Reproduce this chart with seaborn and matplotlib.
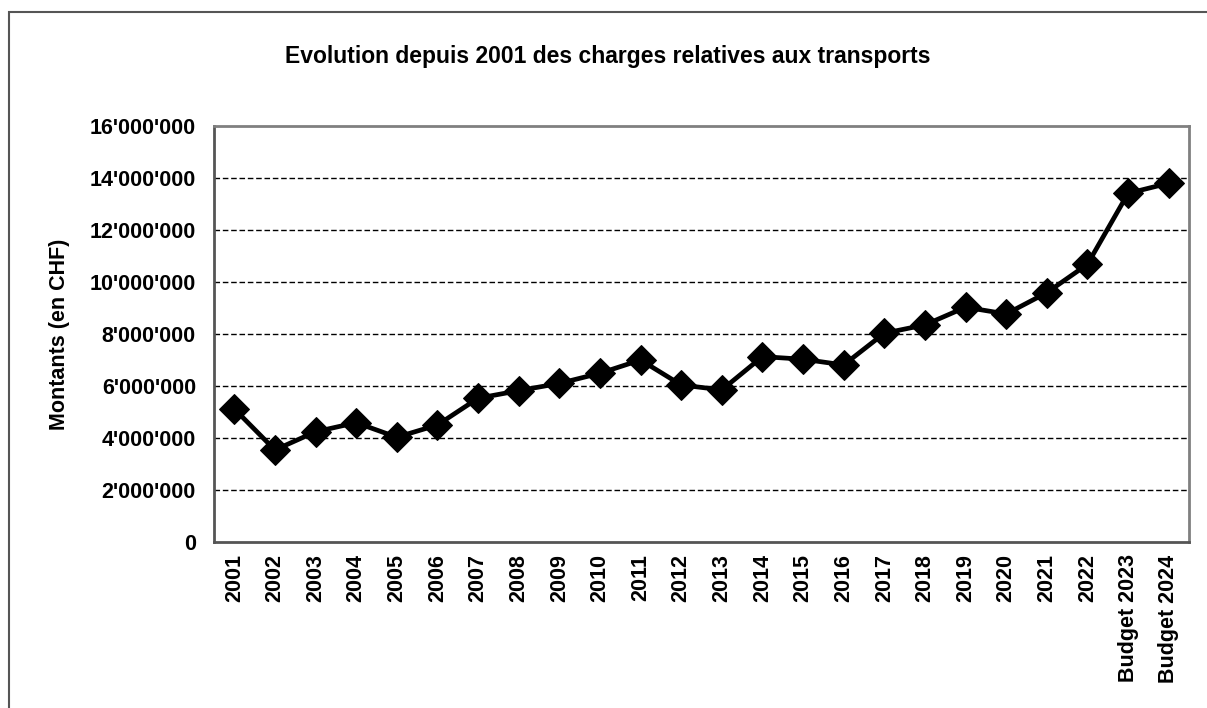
import matplotlib
matplotlib.use("Agg")
import matplotlib.pyplot as plt
from matplotlib.ticker import FuncFormatter, FixedLocator
import seaborn as sns

# données
annees = ["2001", "2002", "2003", "2004", "2005", "2006", "2007", "2008",
          "2009", "2010", "2011", "2012", "2013", "2014", "2015", "2016",
          "2017", "2018", "2019", "2020", "2021", "2022",
          "Budget 2023", "Budget 2024"]
montants = [5120000, 3540000, 4240000, 4590000, 4030000, 4500000, 5530000, 5820000,
            6100000, 6490000, 7000000, 6040000, 5850000, 7130000, 7030000, 6810000,
            8030000, 8350000, 9030000, 8770000, 9590000, 10680000,
            13410000, 13800000]
y_ticks = [0, 2000000, 4000000, 6000000, 8000000, 10000000, 12000000, 14000000, 16000000]

sns.set_style("white")
plt.rcParams['font.family'] = ['Liberation Sans', 'DejaVu Sans']
plt.rcParams['font.weight'] = 'bold'
plt.rcParams['text.color'] = 'black'
plt.rcParams['axes.labelcolor'] = 'black'
plt.rcParams['xtick.labelcolor'] = 'black'
plt.rcParams['ytick.labelcolor'] = 'black'

fs = 15.5

fig = plt.figure(figsize=(12.07, 7.08), dpi=100)
ax = fig.add_axes([214 / 1207, 1 - 542 / 708, (1189 - 214) / 1207, (542 - 126) / 708])

# cadre extérieur
cadre = plt.Rectangle((9 / 1207, -0.1), 1.2, 1 - 12 / 708 + 0.1, transform=fig.transFigure,
                      fill=False, edgecolor="#555555", linewidth=1.5)
fig.patches.append(cadre)

sns.lineplot(x=annees, y=montants, ax=ax, color="black", linewidth=3.4,
             marker="D", markersize=15, markeredgecolor="black", sort=False)

ax.set_xlim(-0.5, len(annees) - 0.5)
ax.set_ylim(0, 16000000)
ax.yaxis.set_major_locator(FixedLocator(y_ticks))
ax.yaxis.set_major_formatter(FuncFormatter(lambda v, p: f"{int(v):,}".replace(",", "'")))

for v in y_ticks[1:-1]:
    ax.axhline(v, color="black", linewidth=1, linestyle=(0, (4, 2)), zorder=0)

ax.set_xticks(range(len(annees)))
ax.set_xticklabels(annees, rotation=90, fontsize=fs, fontweight="bold")
ax.set_xticks([i + 0.5 for i in range(-1, len(annees))], minor=True)
ax.tick_params(axis="x", which="major", length=0, pad=9)
ax.tick_params(axis="x", which="minor", length=6, width=1.2, color="#555555", direction="out")
ax.tick_params(axis="y", length=6, width=1.2, color="#555555", direction="out", labelsize=fs, pad=7)
for lab in ax.get_yticklabels():
    lab.set_fontweight("bold")

for side in ["left", "bottom", "top", "right"]:
    ax.spines[side].set_visible(True)
    ax.spines[side].set_color("#808080")
    ax.spines[side].set_linewidth(2)
ax.spines["left"].set_color("#555555")
ax.spines["bottom"].set_color("#555555")

ax.set_ylabel("Montants (en CHF)", fontsize=fs, fontweight="bold")
ax.yaxis.set_label_coords((70 - 214) / (1189 - 214), 0.5)

fig.text(608 / 1207, 1 - 57 / 708, "Evolution depuis 2001 des charges relatives aux transports",
         ha="center", va="center", fontsize=16.5, fontweight="bold")

fig.savefig("out.png", dpi=100)
